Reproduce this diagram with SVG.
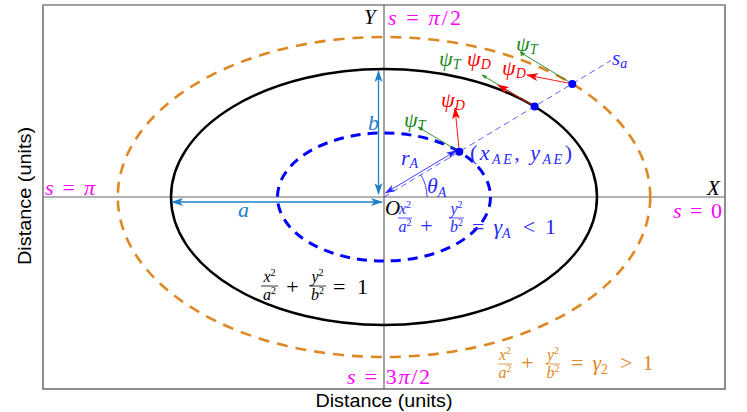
<svg xmlns="http://www.w3.org/2000/svg" width="747" height="412" viewBox="0 0 747 412">
<style>
.m{font-family:"Liberation Serif",serif;}
.i{font-style:italic;}
.lab{font-family:"Liberation Sans",Arial,sans-serif;font-size:18px;fill:#000;}
.mag{fill:#ff00ff;font-size:22px;}
.dim{stroke:#1f80c8;stroke-width:1.3;fill:none;}
.red{stroke:#ff0000;stroke-width:0.9;fill:none;}
.grn{stroke:#1a8a1a;stroke-width:0.9;fill:none;}
.bar{stroke-width:0.8;}
</style>
<defs>
<marker id="ad" viewBox="0 0 12 8" refX="11" refY="4" markerWidth="12" markerHeight="8" markerUnits="userSpaceOnUse" orient="auto-start-reverse"><path d="M0,0 L12,4 L0,8 L3,4 z" fill="#1f80c8"/></marker>
<marker id="ar" viewBox="0 0 12 8" refX="11" refY="4" markerWidth="12" markerHeight="8" markerUnits="userSpaceOnUse" orient="auto"><path d="M0,0 L12,4 L0,8 L3,4 z" fill="#ff0000"/></marker>
<marker id="ag" viewBox="0 0 6 4" refX="5.5" refY="2" markerWidth="6" markerHeight="4" markerUnits="userSpaceOnUse" orient="auto"><path d="M0,0 L6,2 L0,4 L1.5,2 z" fill="#1a8a1a"/></marker>
<marker id="ab" viewBox="0 0 12 8" refX="11" refY="4" markerWidth="11" markerHeight="7" markerUnits="userSpaceOnUse" orient="auto-start-reverse"><path d="M0,0 L12,4 L0,8 L3,4 z" fill="#2a2aff"/></marker>
</defs>

<g id="frame">
<rect x="43" y="5" width="682" height="384" fill="none" stroke="#555" stroke-width="1.3"/>
<line x1="43" y1="5" x2="725" y2="5" stroke="#a0a0a0" stroke-width="2"/>
<line x1="43" y1="197" x2="725" y2="197" stroke="#666" stroke-width="1.2"/>
<line x1="384" y1="5" x2="384" y2="389" stroke="#666" stroke-width="1.2"/>
<text class="lab" x="384" y="407" text-anchor="middle" textLength="137" lengthAdjust="spacingAndGlyphs">Distance (units)</text>
<text class="lab" transform="translate(31,196) rotate(-90)" x="0" y="0" text-anchor="middle" textLength="138" lengthAdjust="spacingAndGlyphs">Distance (units)</text>
</g>

<g id="ellipses">
<ellipse id="outer" cx="384" cy="197" rx="266.25" ry="160" fill="none" stroke="#dd8822" stroke-width="2.6" stroke-dasharray="11,8"/>
<ellipse id="unit" cx="384" cy="197" rx="213" ry="128" fill="none" stroke="#000" stroke-width="2.5"/>
<ellipse id="inner" cx="384" cy="197" rx="106.5" ry="64" fill="none" stroke="#0000ff" stroke-width="3" stroke-dasharray="10,7"/>
</g>

<g id="connectors">
<line x1="384" y1="197" x2="611" y2="60.5" stroke="#3333ff" stroke-width="0.8" stroke-dasharray="6,4"/>
<line class="dim" x1="378.5" y1="71" x2="378.5" y2="194" marker-start="url(#ad)" marker-end="url(#ad)"/>
<line class="dim" x1="172" y1="202" x2="382" y2="202" marker-start="url(#ad)" marker-end="url(#ad)"/>
<line x1="385.5" y1="193" x2="456" y2="150.8" stroke="#2a2aff" stroke-width="0.9" marker-start="url(#ab)" marker-end="url(#ab)"/>
<path d="M427,197 A43,43 0 0 0 420.9,174.9" fill="none" stroke="#2a2aff" stroke-width="0.9"/>
<line class="grn" x1="459.3" y1="151.7" x2="418" y2="127" marker-end="url(#ag)"/>
<line class="red" x1="459.3" y1="151.7" x2="455" y2="108" marker-end="url(#ar)"/>
<line class="grn" x1="534.6" y1="106.5" x2="482" y2="75" marker-end="url(#ag)"/>
<line class="red" x1="534.6" y1="106.5" x2="498" y2="85" marker-end="url(#ar)"/>
<line class="grn" x1="572.3" y1="83.9" x2="520" y2="52" marker-end="url(#ag)"/>
<line class="red" x1="572.3" y1="83.9" x2="527" y2="75" marker-end="url(#ar)"/>
</g>

<g id="points" fill="#0000ff">
<circle cx="459.3" cy="151.7" r="4"/>
<circle cx="534.6" cy="106.5" r="4"/>
<circle cx="572.3" cy="83.9" r="4"/>
</g>

<g id="axis-labels" class="m">
<text x="364" y="24" font-size="21" class="i">Y</text>
<text x="707" y="195" font-size="21" class="i">X</text>
<text x="385" y="215" font-size="21" class="i">O</text>
<text class="m mag" x="388" y="25" textLength="73" lengthAdjust="spacing"><tspan class="i">s</tspan> = <tspan class="i">π</tspan>/2</text>
<text class="m mag" x="45" y="195" textLength="50" lengthAdjust="spacing"><tspan class="i">s</tspan> = <tspan class="i">π</tspan></text>
<text class="m mag" x="673" y="218" textLength="49" lengthAdjust="spacing"><tspan class="i">s</tspan> = 0</text>
<text class="m mag" x="347" y="384" textLength="83" lengthAdjust="spacing"><tspan class="i">s</tspan> = 3<tspan class="i">π</tspan>/2</text>
<text x="368" y="130" font-size="22" class="i" fill="#1f80c8">b</text>
<text x="238" y="217" font-size="22" class="i" fill="#1f80c8">a</text>
<text x="612" y="65" font-size="21" class="i" fill="#2a2aff">s<tspan font-size="14" dy="3">a</tspan></text>
<text x="401" y="165" font-size="22" class="i" fill="#2a2aff">r<tspan font-size="14" dy="3">A</tspan></text>
<text x="427" y="193" font-size="22" class="i" fill="#2a2aff">θ<tspan font-size="14" dy="4">A</tspan></text>
<text x="470" y="160" font-size="22" fill="#2a2aff" textLength="102" lengthAdjust="spacing">(<tspan class="i">x</tspan><tspan class="i" font-size="14" dy="4">AE</tspan><tspan dy="-4">, </tspan><tspan class="i">y</tspan><tspan class="i" font-size="14" dy="4">AE</tspan><tspan dy="-4">)</tspan></text>
</g>

<g id="psi-labels" class="m i" font-size="22">
<text x="404" y="127" fill="#1a8a1a">ψ<tspan font-size="14" dy="3">T</tspan></text>
<text x="441" y="107" fill="#ff0000">ψ<tspan font-size="14" dy="3">D</tspan></text>
<text x="439" y="66" fill="#1a8a1a">ψ<tspan font-size="14" dy="3">T</tspan></text>
<text x="467" y="66" fill="#ff0000">ψ<tspan font-size="14" dy="3">D</tspan></text>
<text x="502" y="75" fill="#ff0000">ψ<tspan font-size="14" dy="3">D</tspan></text>
<text x="516" y="51" fill="#1a8a1a">ψ<tspan font-size="14" dy="3">T</tspan></text>
</g>

<g id="eq-unit" class="m" fill="#000" stroke="#000">
<text x="269.5" y="282" font-size="16" text-anchor="middle" stroke="none" class="i">x<tspan font-size="10" dy="-6" font-style="normal">2</tspan></text>
<line class="bar" x1="261" y1="286" x2="278" y2="286"/>
<text x="269.5" y="300" font-size="16" text-anchor="middle" stroke="none" class="i">a<tspan font-size="10" dy="-6" font-style="normal">2</tspan></text>
<text x="292.5" y="294" font-size="22" text-anchor="middle" stroke="none">+</text>
<text x="317.5" y="282" font-size="16" text-anchor="middle" stroke="none" class="i">y<tspan font-size="10" dy="-6" font-style="normal">2</tspan></text>
<line class="bar" x1="309" y1="286" x2="326" y2="286"/>
<text x="317.5" y="300" font-size="16" text-anchor="middle" stroke="none" class="i">b<tspan font-size="10" dy="-6" font-style="normal">2</tspan></text>
<text x="333" y="294" font-size="22" stroke="none" textLength="35" lengthAdjust="spacing">= 1</text>
</g>

<g id="eq-inner" class="m" fill="#2a2aff" stroke="#2a2aff">
<text x="405" y="214" font-size="16" text-anchor="middle" stroke="none" class="i">x<tspan font-size="10" dy="-6" font-style="normal">2</tspan></text>
<line class="bar" x1="398" y1="218" x2="412" y2="218"/>
<text x="405" y="232" font-size="16" text-anchor="middle" stroke="none" class="i">a<tspan font-size="10" dy="-6" font-style="normal">2</tspan></text>
<text x="426.5" y="233" font-size="22" text-anchor="middle" stroke="none">+</text>
<text x="456.5" y="214" font-size="16" text-anchor="middle" stroke="none" class="i">y<tspan font-size="10" dy="-6" font-style="normal">2</tspan></text>
<line class="bar" x1="449" y1="218" x2="464" y2="218"/>
<text x="456.5" y="232" font-size="16" text-anchor="middle" stroke="none" class="i">b<tspan font-size="10" dy="-6" font-style="normal">2</tspan></text>
<text x="472" y="234" font-size="22" stroke="none">=<tspan dx="9" class="i">γ</tspan><tspan class="i" font-size="14" dy="4">A</tspan><tspan dy="-4" dx="12">&lt;</tspan><tspan dx="10">1</tspan></text>
</g>

<g id="eq-outer" class="m" fill="#dd8822" stroke="#dd8822">
<text x="505" y="360" font-size="16" text-anchor="middle" stroke="none" class="i">x<tspan font-size="10" dy="-6" font-style="normal">2</tspan></text>
<line class="bar" x1="498" y1="364" x2="512" y2="364"/>
<text x="505" y="378" font-size="16" text-anchor="middle" stroke="none" class="i">a<tspan font-size="10" dy="-6" font-style="normal">2</tspan></text>
<text x="527.5" y="370" font-size="22" text-anchor="middle" stroke="none">+</text>
<text x="553" y="360" font-size="16" text-anchor="middle" stroke="none" class="i">y<tspan font-size="10" dy="-6" font-style="normal">2</tspan></text>
<line class="bar" x1="546" y1="364" x2="560" y2="364"/>
<text x="553" y="378" font-size="16" text-anchor="middle" stroke="none" class="i">b<tspan font-size="10" dy="-6" font-style="normal">2</tspan></text>
<text x="571" y="370" font-size="22" stroke="none">=<tspan dx="9" class="i">γ</tspan><tspan font-size="14" dy="4">2</tspan><tspan dy="-4" dx="12">&gt;</tspan><tspan dx="10">1</tspan></text>
</g>
</svg>
